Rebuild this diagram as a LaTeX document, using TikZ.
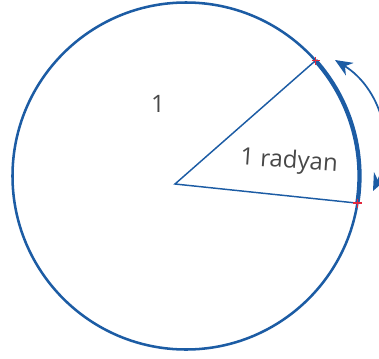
\documentclass[tikz,border=0pt]{standalone}
\usepackage{fontspec}
\setmainfont{Open Sans}
\usetikzlibrary{arrows.meta,calc}

\definecolor{radblue}{RGB}{28,92,164}
\definecolor{radgray}{RGB}{72,72,72}
\definecolor{radred}{RGB}{226,40,60}

\tikzset{every picture/.style={line width=0.75pt}}
\tikzset{
  crossmark/.style={color=radred, line width=1},
  radlabel/.style={text=radgray, font=\fontsize{18}{20}\selectfont, inner sep=0pt}
}

\begin{document}
\begin{tikzpicture}[x=0.75pt,y=0.75pt,yscale=-1,xscale=1]
\clip (0,0) rectangle (379,358);

\coordinate (C) at (186,176);
\coordinate (O) at (175,184);
\coordinate (P) at ($(C)+(-41.7:173.5)$);
\coordinate (Q) at ($(C)+(9:173.5)$);
\coordinate (A) at (335,60);
\coordinate (B) at (373,191);

%Shape: Circle
\draw [color=radblue, line width=1.9] (C) circle [radius=173.5];
%Shape: Arc
\draw [color=radblue, line width=3.2] (P) arc [start angle=-41.7, end angle=9, radius=173.5];
%Straight Lines
\draw [color=radblue, line width=1.1] (P) -- (O) -- (Q);
%Curve Lines
\draw [color=radblue, line width=1.3, {Stealth[length=13, width=11]}-{Stealth[length=13, width=11]}] (A) to [bend right=42] (B);

%Shape: Cross
\draw [crossmark] ($(Q)+(-4.5,0)$) -- ($(Q)+(4.5,0)$) ($(Q)+(0,-4.5)$) -- ($(Q)+(0,4.5)$);
\draw [crossmark] ($(P)+(-4,0)$) -- ($(P)+(4,0)$) ($(P)+(0,-4)$) -- ($(P)+(0,4)$);

% Text Node
\node (one) [radlabel] at (158,104) {1};
% Text Node
\node (angle) [radlabel, rotate=-4] at (289,162) {1 radyan};

\end{tikzpicture}
\end{document}
